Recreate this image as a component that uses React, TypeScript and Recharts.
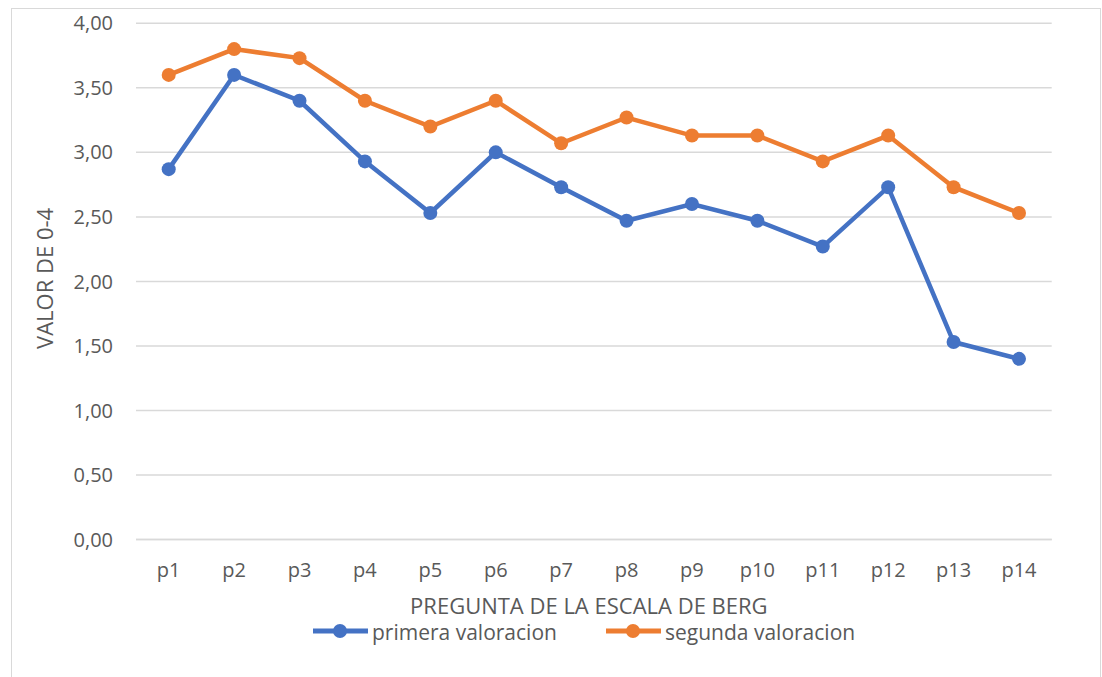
import React from 'react';
import { LineChart, Line, XAxis, YAxis, CartesianGrid, Legend } from 'recharts';

const categories = ['p1', 'p2', 'p3', 'p4', 'p5', 'p6', 'p7', 'p8', 'p9', 'p10', 'p11', 'p12', 'p13', 'p14'];
const primeraValoracion = [2.87, 3.6, 3.4, 2.93, 2.53, 3.0, 2.73, 2.47, 2.6, 2.47, 2.27, 2.73, 1.53, 1.4];
const segundaValoracion = [3.6, 3.8, 3.73, 3.4, 3.2, 3.4, 3.07, 3.27, 3.13, 3.13, 2.93, 3.13, 2.73, 2.53];
const yTicks = [0, 0.5, 1, 1.5, 2, 2.5, 3, 3.5, 4];
const seriesNames = ['primera valoracion', 'segunda valoracion'];
const xTitle = 'PREGUNTA DE LA ESCALA DE BERG';
const yTitle = 'VALOR DE 0-4';

const data = categories.map((c, i) => ({
  name: c,
  primera: primeraValoracion[i],
  segunda: segundaValoracion[i],
}));

const FONT = "'Open Sans', sans-serif";
const TEXT = '#595959';
const BLUE = '#4472C4';
const ORANGE = '#ED7D31';
const GRID = '#d9d9d9';

const renderLegend = (props: any) => {
  const { payload } = props;
  return (
    <div style={{ display: 'flex', fontFamily: FONT, fontSize: 21, color: TEXT, height: 22 }}>
      {(payload || []).map((e: any, i: number) => (
        <div key={i} style={{ display: 'flex', alignItems: 'center', width: 293, height: 22 }}>
          <svg width={59} height={16} style={{ display: 'block' }}>
            <line x1={0} x2={55} y1={8} y2={8} stroke={e.color} strokeWidth={5} />
            <circle cx={27} cy={8} r={7} fill={e.color} />
          </svg>
          <span style={{ whiteSpace: 'nowrap', lineHeight: '21px', marginTop: 3 }}>{e.value}</span>
        </div>
      ))}
    </div>
  );
};

const renderYTitle = (props: any) => {
  const { viewBox } = props;
  const cx = viewBox.x - 12;
  const cy = viewBox.y + viewBox.height / 2 - 3;
  return (
    <text
      x={cx}
      y={cy}
      transform={`rotate(-90, ${cx}, ${cy})`}
      textAnchor="middle"
      dominantBaseline="central"
      fill={TEXT}
      fontFamily={FONT}
      fontSize={22}
    >
      {yTitle}
    </text>
  );
};

export default function App() {
  return (
    <div style={{ position: 'absolute', left: 0, top: 0, width: 1102, height: 677, overflow: 'hidden', background: '#fff' }}>
      <div
        style={{
          position: 'absolute',
          left: 11,
          top: 8,
          width: 1088,
          height: 700,
          border: '1px solid #d9d9d9',
        }}
      />
      <div style={{ position: 'absolute', left: 0, top: 0 }}>
        <LineChart
          width={1102}
          height={677}
          data={data}
          margin={{ top: 23.3, right: 50.3, bottom: 97.5, left: 56 }}
        >
          <CartesianGrid vertical={false} stroke={GRID} strokeWidth={1.5} />
          <XAxis
            dataKey="name"
            scale="band"
            height={40}
            tickLine={false}
            tickSize={0}
            tickMargin={23}
            axisLine={{ stroke: GRID, strokeWidth: 1.5 }}
            tick={{ fill: TEXT, fontSize: 20, fontFamily: FONT }}
            interval={0}
            label={{
              value: xTitle,
              position: 'bottom',
              offset: 19,
              dx: -5,
              fill: TEXT,
              fontSize: 22,
              fontFamily: FONT,
            }}
          />
          <YAxis
            width={80}
            domain={[0, 4]}
            ticks={yTicks}
            tickLine={false}
            axisLine={false}
            tickSize={0}
            tickMargin={23}
            tick={{ fill: TEXT, fontSize: 20, fontFamily: FONT }}
            tickFormatter={(v: number) => v.toFixed(2).replace('.', ',')}
            label={{ content: renderYTitle }}
          />
          <Legend
            layout="horizontal"
            verticalAlign="middle"
            content={renderLegend}
            wrapperStyle={{ position: 'absolute', left: 313, top: 620, width: 700 }}
          />
          <Line
            name={seriesNames[0]}
            dataKey="primera"
            stroke={BLUE}
            strokeWidth={4.5}
            dot={{ r: 7, fill: BLUE, stroke: BLUE, strokeWidth: 0 }}
            activeDot={false}
            isAnimationActive={false}
          />
          <Line
            name={seriesNames[1]}
            dataKey="segunda"
            stroke={ORANGE}
            strokeWidth={4.5}
            dot={{ r: 7, fill: ORANGE, stroke: ORANGE, strokeWidth: 0 }}
            activeDot={false}
            isAnimationActive={false}
          />
        </LineChart>
      </div>
    </div>
  );
}
